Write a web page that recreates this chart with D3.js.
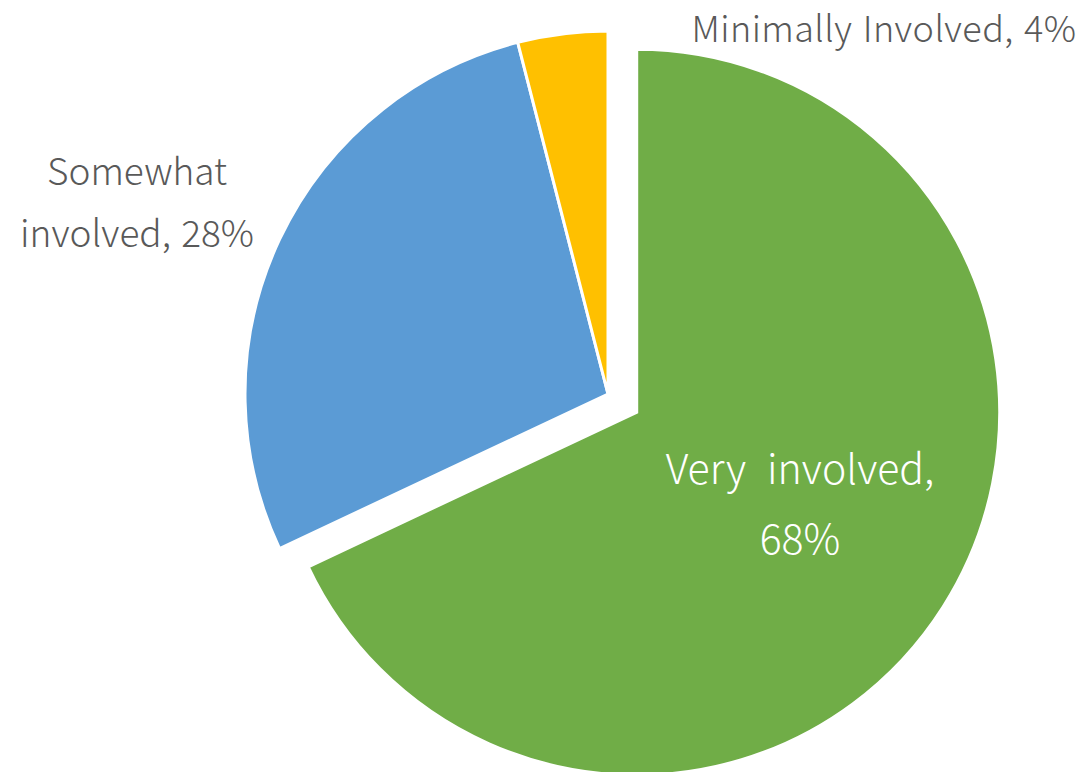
<!DOCTYPE html>
<html>
<head>
<meta charset="utf-8">
<script src="https://cdn.jsdelivr.net/npm/d3@7"></script>
<style>
  html, body { margin: 0; padding: 0; background: #fff; }
  svg { display: block; }
  text { font-family: "Noto Sans CJK JP", "Noto Sans", sans-serif; }
</style>
</head>
<body>
<svg id="chart" width="1089" height="772"></svg>
<script>
const categories = ["Very involved", "Somewhat involved", "Minimally Involved"];
const values = [68, 28, 4];
const labelLines = [["Very involved,", "68%"], ["Somewhat", "involved, 28%"], ["Minimally Involved, 4%"]];
const colors = ["#70AD47", "#5B9BD5", "#FFC000"];

const W = 1089, H = 772;
const cx = 608, cy = 394, R = 363;
const explode = [34, 0, 0];

const svg = d3.select("#chart");
const color = d3.scaleOrdinal().domain(categories).range(colors);
const pie = d3.pie().sort(null).value(d => d.v);
const arcs = pie(categories.map((c, i) => ({c, v: values[i], i})));
const arc = d3.arc().innerRadius(0).outerRadius(R);

const g = svg.append("g").attr("transform", `translate(${cx},${cy})`);
g.selectAll("path").data(arcs).join("path")
  .attr("d", arc)
  .attr("fill", d => color(d.data.c))
  .attr("stroke", "#fff")
  .attr("stroke-width", 3)
  .attr("stroke-linejoin", "miter")
  .attr("transform", d => {
    const m = (d.startAngle + d.endAngle) / 2;
    const e = explode[d.data.i];
    return `translate(${e * Math.sin(m)},${-e * Math.cos(m)})`;
  });

// label layout: [centerX, firstBaseline, lineHeight, fill, fontSize, wordSpacing, letterSpacing]
const labelLayout = [
  [800, 484, 70, "#ffffff", 41, 12, 0],
  [137, 185, 62, "#595959", 37, 2, 0],
  [884, 42, 0, "#595959", 36, 2, 0.4]
];
labelLines.forEach((lines, i) => {
  const [x, y, lh, fill, fs, ws, ls] = labelLayout[i];
  const t = svg.append("text")
    .attr("text-anchor", "middle")
    .attr("fill", fill)
    .attr("font-size", fs)
    .attr("word-spacing", ws)
    .attr("letter-spacing", ls)
    .attr("font-weight", 300);
  lines.forEach((ln, j) => {
    t.append("tspan").attr("x", x).attr("y", y + j * lh).text(ln);
  });
});
</script>
</body>
</html>
